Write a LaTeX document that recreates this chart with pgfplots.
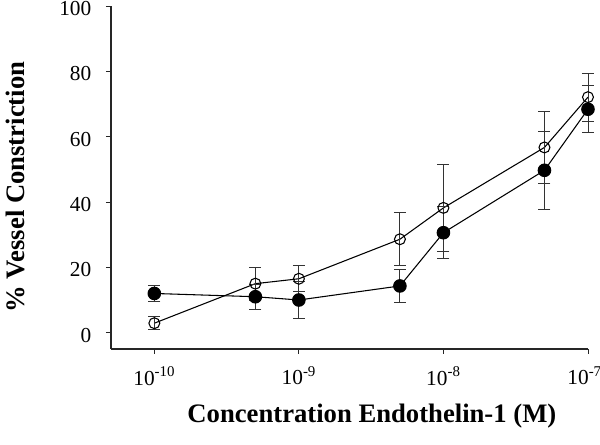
\documentclass[border=0pt]{standalone}
\usepackage{pgfplots}
\pgfplotsset{compat=1.18}
\usepackage{fontspec}
\setmainfont{Liberation Serif}
\usetikzlibrary{calc}

\begin{document}
\begin{tikzpicture}
\begin{axis}[
  name=ax,
  scale only axis,
  width=357.75pt, height=257.25pt,
  xmode=log, log basis x=10,
  xmin=5.0119e-11, xmax=1e-7,
  ymin=-5, ymax=100,
  axis lines*=left,
  axis line style={line width=0.8pt, black!85},
  tick align=outside,
  major tick length=3.75pt,
  tick style={line width=0.7pt, black!85},
  xtick={1e-10,1e-9,1e-8,1e-7},
  xticklabels={10\textsuperscript{-10},10\textsuperscript{-9},10\textsuperscript{-8},\hspace*{-5pt}10\textsuperscript{-7}},
  minor xtick={}, minor tick num=0,
  ytick={0,20,40,60,80,100},
  /pgf/number format/assume math mode=true,
  tick label style={font=\fontsize{16}{18}\selectfont},
  xticklabel style={yshift=-6pt},
  yticklabel style={xshift=-7.5pt, yshift=-2pt},
  label style={font=\fontsize{20}{24}\selectfont\bfseries},
  xlabel={Concentration Endothelin-1 (M)},
  ylabel={\% Vessel Constriction},
  xlabel style={at={(axis description cs:0.547,-0.195)}, anchor=center},
  ylabel style={at={(axis description cs:-0.201,0.472)}, anchor=center, rotate=0},
  clip=false,
]
% open circles
\addplot[black, line width=0.8pt, mark=o, mark size=4.1pt,
  error bars/.cd, y dir=both, y explicit,
  error bar style={line width=0.7pt, black!80},
  error mark options={rotate=90, mark size=4.5pt, line width=0.7pt, black!80}]
coordinates {
  (1e-10,2.9)  +- (0,2.0)
  (5e-10,15.0) +- (0,5.1)
  (1e-9,16.5)  +- (0,4.0)
  (5e-9,28.6)  +- (0,8.1)
  (1e-8,38.2)  +- (0,13.2)
  (5e-8,56.7)  +- (0,11.0)
  (1e-7,72.1)  +- (0,7.3)
};
% filled circles
\addplot[black, line width=0.8pt, mark=*, mark size=4.7pt,
  mark options={fill=black},
  error bars/.cd, y dir=both, y explicit,
  error bar style={line width=0.7pt, black!80},
  error mark options={rotate=90, mark size=4.5pt, line width=0.7pt, black!80}]
coordinates {
  (1e-10,12.0) +- (0,2.4)
  (5e-10,11.0) +- (0,3.9)
  (1e-9,10.0)  +- (0,5.8)
  (5e-9,14.3)  +- (0,5.1)
  (1e-8,30.6)  +- (0,8.0)
  (5e-8,49.7)  +- (0,12.0)
  (1e-7,68.4)  +- (0,7.2)
};
\end{axis}
\pgfresetboundingbox
\path[use as bounding box] ($(ax.south west)+(-83.25pt,-72pt)$) rectangle ($(ax.north east)+(9pt,4.5pt)$);
\end{tikzpicture}
\end{document}
